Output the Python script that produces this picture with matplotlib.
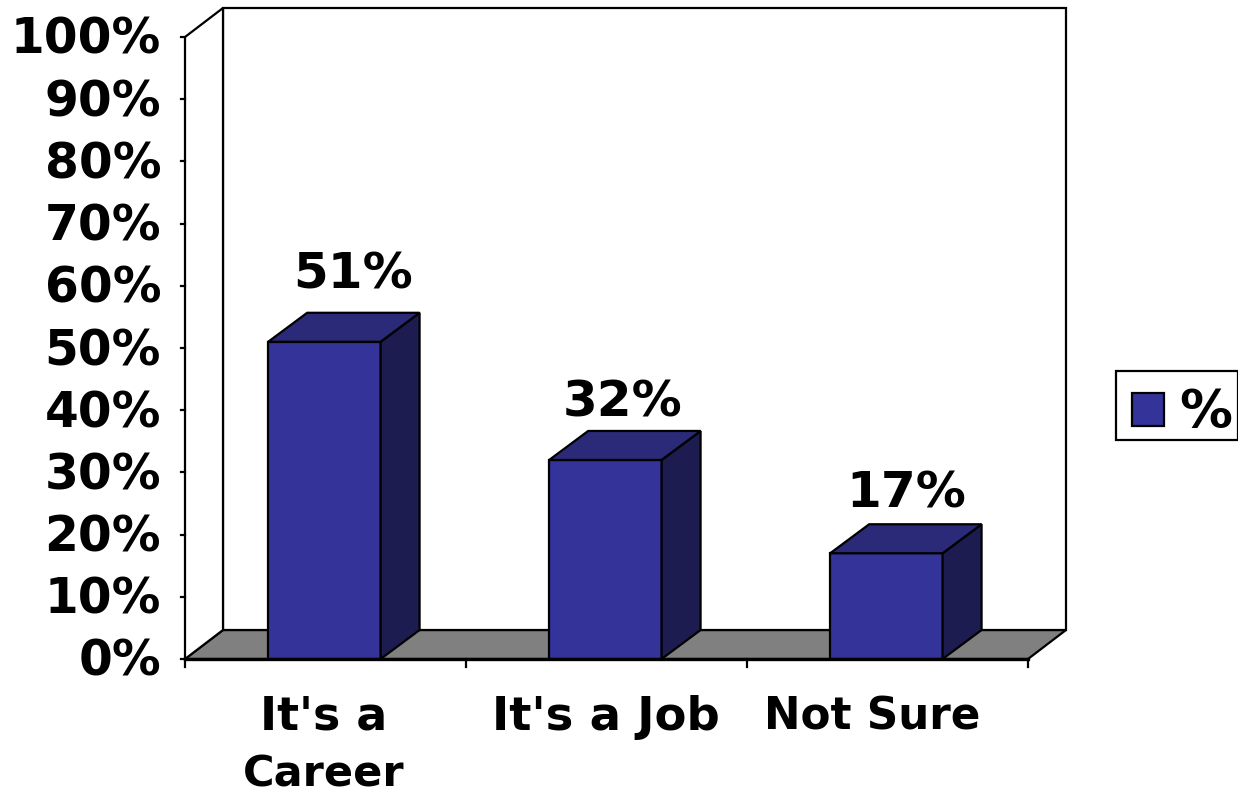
import matplotlib
matplotlib.use("Agg")
import matplotlib.pyplot as plt
from matplotlib.patches import Polygon, Rectangle

# Values
categories = ["It's a", "It's a Job", "Not Sure"]
second_line = ["Career", "", ""]
values = [51, 32, 17]
y_ticks = list(range(0, 101, 10))

plt.rcParams['font.family'] = ['DejaVu Sans']
plt.rcParams['font.weight'] = 'bold'

W, H = 1238, 794
fig = plt.figure(figsize=(W / 100, H / 100), dpi=100)
# axes in pixel coordinates of the front plane: x is category space, y is percent
x0, x1 = 185, 1028
y0, y100 = 659, 37
ax = fig.add_axes([x0 / W, 1 - y0 / H, (x1 - x0) / W, (y0 - y100) / H])
ax.set_xlim(0, len(categories))
ax.set_ylim(0, 100)
ax.axis("off")

# depth offset expressed in data units
dx = 38 / (x1 - x0) * len(categories)
dy = 29 / (y0 - y100) * 100
bar_dx = 39 / (x1 - x0) * len(categories)
bar_w = 0.4
dark = "#1C1C50"
top = "#2A2A78"
front = "#333399"
lw = 1.6

# label nudges in pixels, the labels do not sit evenly over the bars
label_dx = [28, 16, 19]
label_dy = [43, 33, 36]
cat_dx = [-2, -1, -15]
cat_size = [33, 33.5, 31.5]


def px_x(p):
    return p / (x1 - x0) * len(categories)


def px_y(p):
    return p / (y0 - y100) * 100


def poly(pts, fc, z=1):
    ax.add_patch(Polygon(pts, closed=True, facecolor=fc, edgecolor="black", lw=lw, zorder=z, clip_on=False))


# walls and floor
n = len(categories)
poly([(0, 0), (dx, dy), (n + dx, dy), (n, 0)], "#808080")
poly([(dx, dy), (dx, 100 + dy), (n + dx, 100 + dy), (n + dx, dy)], "white")
poly([(0, 0), (0, 100), (dx, 100 + dy), (dx, dy)], "white")

# ticks
for t in y_ticks:
    ax.plot([-0.013, 0], [t, t], color="black", lw=lw, clip_on=False)
    ax.text(px_x(-24), t + px_y(2), f"{t}%", ha="right", va="center_baseline", fontsize=35)
for i in range(n + 1):
    ax.plot([i, i], [0, -1.3], color="black", lw=lw, clip_on=False)

# bars
for i, v in enumerate(values):
    b0 = i + 0.5 - bar_w / 2 - 0.004
    b1 = b0 + bar_w
    ax.add_patch(Rectangle((b0, 0), bar_w, v, facecolor=front, edgecolor="black", lw=lw, zorder=3))
    poly([(b1, 0), (b1 + bar_dx, dy), (b1 + bar_dx, v + dy), (b1, v)], dark, 3)
    poly([(b0, v), (b0 + bar_dx, v + dy), (b1 + bar_dx, v + dy), (b1, v)], top, 3)
    ax.text(i + 0.5 + px_x(label_dx[i]), v + dy + px_y(label_dy[i]), f"{v}%",
            ha="center", va="center_baseline", fontsize=36, zorder=4)

# front edge of the floor is heavier
ax.plot([0, n], [0, 0], color="black", lw=2.4, clip_on=False, zorder=5)

# category labels, the wrapped one has its two lines set far apart
for i, c in enumerate(categories):
    ax.text(i + 0.5 + px_x(cat_dx[i]), px_y(-53), c, ha="center", va="center_baseline", fontsize=cat_size[i])
    if second_line[i]:
        ax.text(i + 0.5 + px_x(cat_dx[i]), px_y(-111), second_line[i], ha="center", va="center_baseline", fontsize=31)

# legend
fig.add_artist(Rectangle((1116 / W, 1 - 440 / H), 122 / W, 69 / H, transform=fig.transFigure, facecolor="white", edgecolor="black", lw=lw, clip_on=False))
fig.add_artist(Rectangle((1132 / W, 1 - 426 / H), 32 / W, 33 / H, transform=fig.transFigure, facecolor=front, edgecolor="black", lw=lw))
fig.text(1179 / W, 1 - 408 / H, "%", ha="left", va="center_baseline", fontsize=38)

fig.savefig("out.png", dpi=100)
